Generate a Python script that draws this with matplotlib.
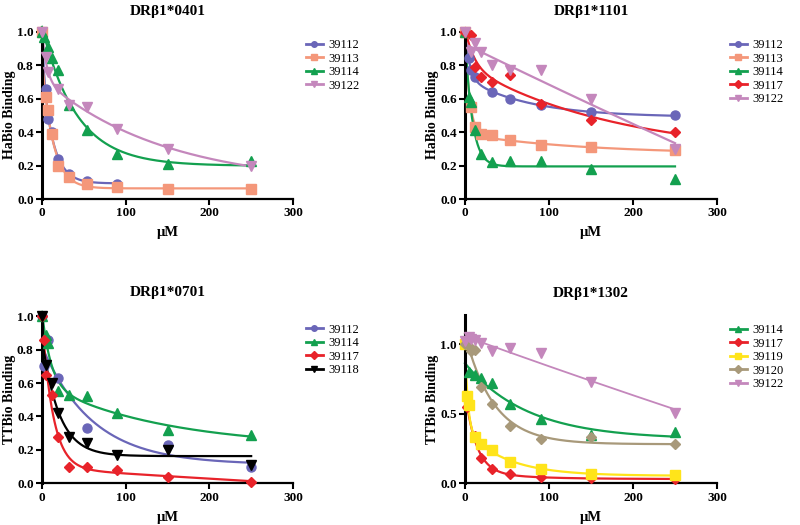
import numpy as np
import matplotlib
matplotlib.use("Agg")
import matplotlib.pyplot as plt
from matplotlib.lines import Line2D

plt.rcParams['font.family'] = ['Liberation Serif', 'DejaVu Serif']

# ---------------- data ----------------
titles = ["DRβ1*0401", "DRβ1*1101", "DRβ1*0701", "DRβ1*1302"]
ylabels = ["HaBio Binding", "HaBio Binding", "TTBio Binding", "TTBio Binding"]

# Panel 1: DRβ1*0401
p1_names = ["39112", "39113", "39114", "39122"]
p1_x = [
    [0, 4.2, 7, 11.7, 19.4, 32.4, 54, 90],
    [0, 4.2, 7, 11.7, 19.4, 32.4, 54, 90, 150, 250],
    [0, 2.5, 7, 11.7, 19.4, 32.4, 54, 90, 150, 250],
    [0, 4.2, 7, 19.4, 32.4, 54, 90, 150, 250],
]
p1_y = [
    [1.0, 0.66, 0.48, 0.40, 0.24, 0.15, 0.11, 0.09],
    [1.0, 0.61, 0.53, 0.39, 0.20, 0.13, 0.09, 0.07, 0.06, 0.06],
    [1.0, 0.97, 0.91, 0.84, 0.77, 0.56, 0.41, 0.27, 0.21, 0.23],
    [1.0, 0.85, 0.76, 0.66, 0.56, 0.55, 0.42, 0.30, 0.20],
]

# Panel 2: DRβ1*1101
p2_names = ["39112", "39113", "39114", "39117", "39122"]
p2_x = [
    [0, 4.2, 7, 11.7, 32.4, 54, 90, 150, 250],
    [0, 7, 11.7, 19.4, 32.4, 54, 90, 150, 250],
    [0, 4.2, 7, 11.7, 19.4, 32.4, 54, 90, 150, 250],
    [0, 7, 11.7, 19.4, 32.4, 54, 90, 150, 250],
    [0, 7, 11.7, 19.4, 32.4, 54, 90, 150, 250],
]
p2_y = [
    [1.0, 0.84, 0.77, 0.73, 0.64, 0.60, 0.56, 0.52, 0.50],
    [1.0, 0.55, 0.43, 0.39, 0.38, 0.35, 0.32, 0.31, 0.29],
    [1.0, 0.61, 0.58, 0.41, 0.27, 0.22, 0.23, 0.23, 0.18, 0.12],
    [1.0, 0.98, 0.79, 0.73, 0.70, 0.74, 0.57, 0.47, 0.40],
    [1.0, 0.88, 0.93, 0.88, 0.80, 0.77, 0.77, 0.60, 0.30],
]

# Panel 3: DRβ1*0701
p3_names = ["39112", "39114", "39117", "39118"]
p3_x = [
    [0, 2.5, 7, 19.4, 54, 150, 250],
    [0, 4.2, 7, 19.4, 32.4, 54, 90, 150, 250],
    [0, 2.5, 4.2, 11.7, 19.4, 32.4, 54, 90, 150, 250],
    [0, 4.2, 11.7, 19.4, 32.4, 54, 90, 150, 250],
]
p3_y = [
    [1.0, 0.70, 0.86, 0.63, 0.33, 0.23, 0.10],
    [1.0, 0.89, 0.84, 0.55, 0.53, 0.52, 0.42, 0.32, 0.29],
    [1.0, 0.86, 0.65, 0.53, 0.28, 0.10, 0.10, 0.08, 0.04, 0.01],
    [1.0, 0.71, 0.60, 0.42, 0.28, 0.24, 0.17, 0.20, 0.11],
]

# Panel 4: DRβ1*1302
p4_names = ["39114", "39117", "39119", "39120", "39122"]
p4_x = [
    [4.2, 11.7, 19.4, 32.4, 54, 90, 150, 250],
    [2.5, 11.7, 19.4, 32.4, 54, 90, 150, 250],
    [0, 2.5, 4.2, 11.7, 19.4, 32.4, 54, 90, 150, 250],
    [0, 4.2, 7, 11.7, 19.4, 32.4, 54, 90, 150, 250],
    [0, 4.2, 7, 11.7, 19.4, 32.4, 54, 90, 150, 250],
]
p4_y = [
    [0.80, 0.78, 0.76, 0.72, 0.57, 0.46, 0.35, 0.37],
    [0.55, 0.34, 0.18, 0.10, 0.07, 0.045, 0.035, 0.03],
    [1.0, 0.63, 0.56, 0.33, 0.28, 0.24, 0.15, 0.10, 0.07, 0.06],
    [1.0, 0.99, 0.95, 0.96, 0.69, 0.57, 0.41, 0.32, 0.33, 0.28],
    [1.02, 1.05, 1.04, 1.03, 1.01, 0.95, 0.97, 0.94, 0.73, 0.505],
]

# ---------------- styles ----------------
style = {
    "39112": ("#6a66b8", "o"),
    "39113": ("#f4977a", "s"),
    "39114": ("#13a04f", "^"),
    "39117": ("#e8232a", "D"),
    "39118": ("#000000", "v"),
    "39119": ("#ffe41a", "s"),
    "39120": ("#a8997a", "D"),
    "39122": ("#c487bc", "v"),
}
# curves fitted with a single exponential (others: two-phase decay)
one_phase = {(1, "39114")}


def fit_decay(x, y, two=True):
    """Monotone one/two-phase exponential decay fit (non-negative amplitudes)."""
    x = np.asarray(x, float)
    y = np.asarray(y, float)
    ks = np.logspace(-3.5, 0.7, 45)
    best = None
    ones = np.ones_like(x)
    for i, k1 in enumerate(ks):
        e1 = np.exp(-k1 * x)
        A = np.column_stack([ones, e1])
        coef, *_ = np.linalg.lstsq(A, y, rcond=None)
        if coef[1] >= 0:
            r = np.sum((A @ coef - y) ** 2)
            if best is None or r < best[0]:
                best = (r, (k1, k1), (coef[0], coef[1], 0.0))
        if not two:
            continue
        for k2 in ks[i + 1:]:
            A = np.column_stack([ones, e1, np.exp(-k2 * x)])
            coef, *_ = np.linalg.lstsq(A, y, rcond=None)
            if coef[1] < 0 or coef[2] < 0:
                continue
            r = np.sum((A @ coef - y) ** 2)
            if best is None or r < best[0]:
                best = (r, (k1, k2), tuple(coef))
    _, (k1, k2), (a, b1, b2) = best
    return lambda t: a + b1 * np.exp(-k1 * t) + b2 * np.exp(-k2 * t)


fig = plt.figure(figsize=(8, 5.25), dpi=100)
W, H = 800, 525

panels = [
    (p1_names, p1_x, p1_y, (42, 30, 293, 199), (0, 1.01), np.arange(0, 1.01, 0.2)),
    (p2_names, p2_x, p2_y, (465, 30, 717, 199), (0, 1.01), np.arange(0, 1.01, 0.2)),
    (p3_names, p3_x, p3_y, (42, 314.5, 293, 483.3), (0, 1.01), np.arange(0, 1.01, 0.2)),
    (p4_names, p4_x, p4_y, (465, 315, 717, 483.3), (0, 1.21), [0.0, 0.5, 1.0]),
]
title_pads = [11, 11, 13, 13]

for i, (names, xs, ys, box, ylim, yt) in enumerate(panels):
    l, t, r, b = box
    ax = fig.add_axes([l / W, (H - b) / H, (r - l) / W, (b - t) / H])
    handles = []
    for n, x, y in zip(names, xs, ys):
        c, m = style[n]
        f = fit_decay(x, y, two=(i, n) not in one_phase)
        tt = np.linspace(0, max(x), 300)
        lw = 1.3 if n == "39122" and i == 3 else 1.6
        ax.plot(tt, f(tt), color=c, lw=lw, zorder=2, clip_on=False)
        ms = 5.5 if m == "D" else 6.5
        ax.plot(x, y, linestyle="none", marker=m, color=c, ms=ms, mec=c,
                zorder=3, clip_on=False)
        handles.append(Line2D([0], [0], color=c, lw=2, marker=m, ms=4, mec=c))
    ax.set_xlim(0, 300)
    ax.set_ylim(*ylim)
    ax.set_xticks([0, 100, 200, 300])
    ax.set_yticks(yt)
    ax.set_yticklabels(["%.1f" % v for v in yt])
    for s in ["top", "right"]:
        ax.spines[s].set_visible(False)
    ax.spines["left"].set_linewidth(2.2)
    ax.spines["bottom"].set_linewidth(1.6)
    ax.tick_params(axis="both", direction="out", length=4, width=1.5,
                   labelsize=9.5, pad=2)
    for lab in ax.get_xticklabels() + ax.get_yticklabels():
        lab.set_fontweight("bold")
    ax.set_title(titles[i], fontsize=11, fontweight="bold", pad=title_pads[i])
    ax.set_ylabel(ylabels[i], fontsize=10, fontweight="bold")
    ax.yaxis.set_label_coords(-0.105, 0.5)
    ax.set_xlabel("μM", fontsize=10.5, fontweight="bold", labelpad=5)
    ax.legend(handles, names, loc="upper left", bbox_to_anchor=(1.03, 0.975),
              frameon=False, fontsize=9, handlelength=1.4, handletextpad=0.45,
              labelspacing=0.12, borderaxespad=0)

fig.savefig("out.png", dpi=100)
